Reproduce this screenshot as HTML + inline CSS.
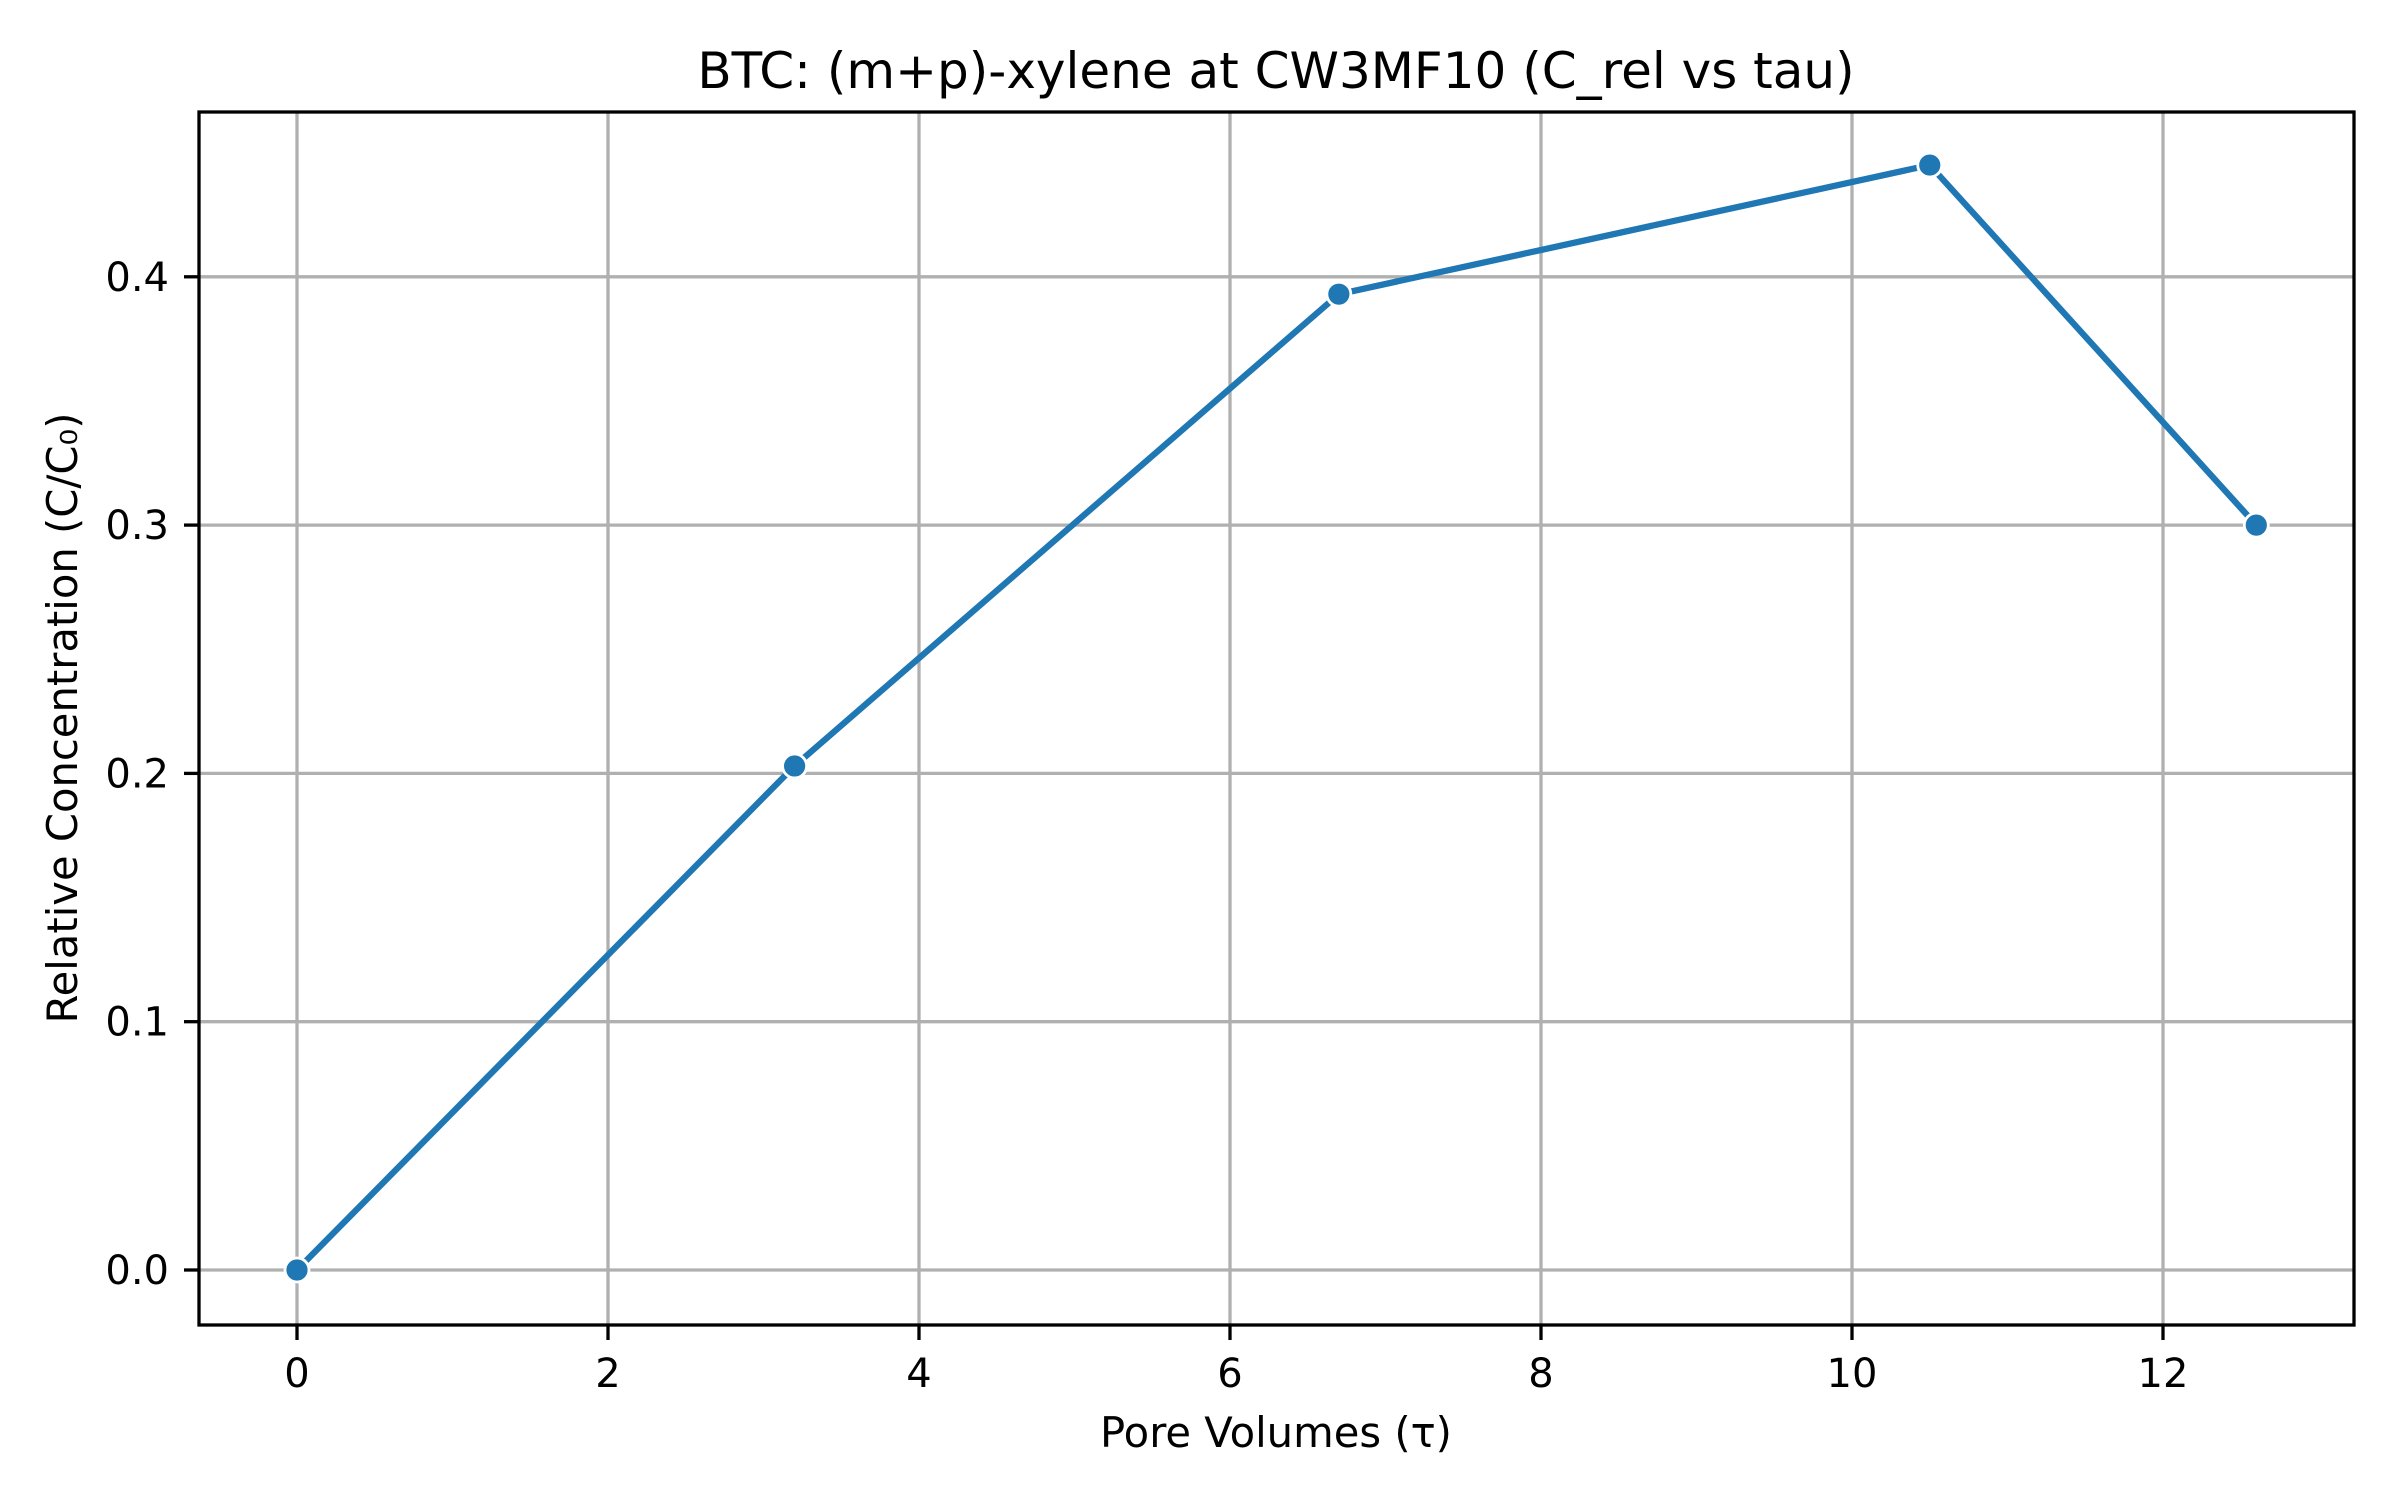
<!DOCTYPE html>
<html><head><meta charset="utf-8"><style>
body{margin:0;background:#fff}
svg{display:block;font-family:"DejaVu Sans","Liberation Sans",sans-serif}
</style></head><body>
<svg id="chart" width="2400" height="1500" xmlns="http://www.w3.org/2000/svg">
<rect width="2400" height="1500" fill="#fff"/>
<g id="grid"></g>
<g id="series"></g>
<rect x="199" y="112" width="2155" height="1213" fill="none" stroke="#000" stroke-width="3.3"/>
<g id="ticks"></g>
<text x="1276" y="88" font-size="50" text-anchor="middle">BTC: (m+p)-xylene at CW3MF10 (C_rel vs tau)</text>
<text x="1276" y="1447" font-size="41.7" text-anchor="middle">Pore Volumes (τ)</text>
<text x="0" y="0" font-size="41.7" text-anchor="middle" transform="translate(77,718) rotate(-90)">Relative Concentration (C/C₀)</text>
</svg>
<script>
const tauValues = [0, 3.2, 6.7, 10.5, 12.6];
const crelValues = [0, 0.203, 0.393, 0.445, 0.300];
const xTicks = [0, 2, 4, 6, 8, 10, 12];
const yTicks = [0.0, 0.1, 0.2, 0.3, 0.4];

const L=199,R=2354,T=112,B=1325;
const sx=v=>297+v*155.5;
const sy=v=>1270-v*2483;
const NS="http://www.w3.org/2000/svg";
function mk(tag,attrs,parent){const e=document.createElementNS(NS,tag);for(const k in attrs)e.setAttribute(k,attrs[k]);parent.appendChild(e);return e;}
const grid=document.getElementById('grid'),ticks=document.getElementById('ticks'),series=document.getElementById('series');
xTicks.forEach(t=>{
  const x=sx(t);
  const g=mk('line',{x1:x,x2:x,y1:T,y2:B,stroke:'#b0b0b0','stroke-width':3.3},grid);
  
  
  const tk=mk('line',{x1:x,x2:x,y1:B,y2:B+15,stroke:'#000','stroke-width':3.3},ticks);
  
  
  const lb=mk('text',{x:x,y:1387,'font-size':40,'text-anchor':'middle'},ticks);
  lb.textContent=String(t);
  
  
});
yTicks.forEach(t=>{
  const y=sy(t);
  const g=mk('line',{x1:L,x2:R,y1:y,y2:y,stroke:'#b0b0b0','stroke-width':3.3},grid);
  
  
  const tk=mk('line',{x1:L-15,x2:L,y1:y,y2:y,stroke:'#000','stroke-width':3.3},ticks);
  
  
  const lb=mk('text',{x:169,y:y+14,'font-size':40,'text-anchor':'end'},ticks);
  lb.textContent=t.toFixed(1);
  
  
});
const pts=tauValues.map((v,i)=>sx(v)+','+sy(crelValues[i])).join(' ');
const line=mk('polyline',{points:pts,fill:'none',stroke:'#1f77b4','stroke-width':6.25,'stroke-linejoin':'round','stroke-linecap':'square'},series);


tauValues.forEach((v,i)=>{
  const c=mk('circle',{cx:sx(v),cy:sy(crelValues[i]),r:12,fill:'#1f77b4',stroke:'#fff','stroke-width':2.8},series);
  
  
});
</script>
</body></html>
